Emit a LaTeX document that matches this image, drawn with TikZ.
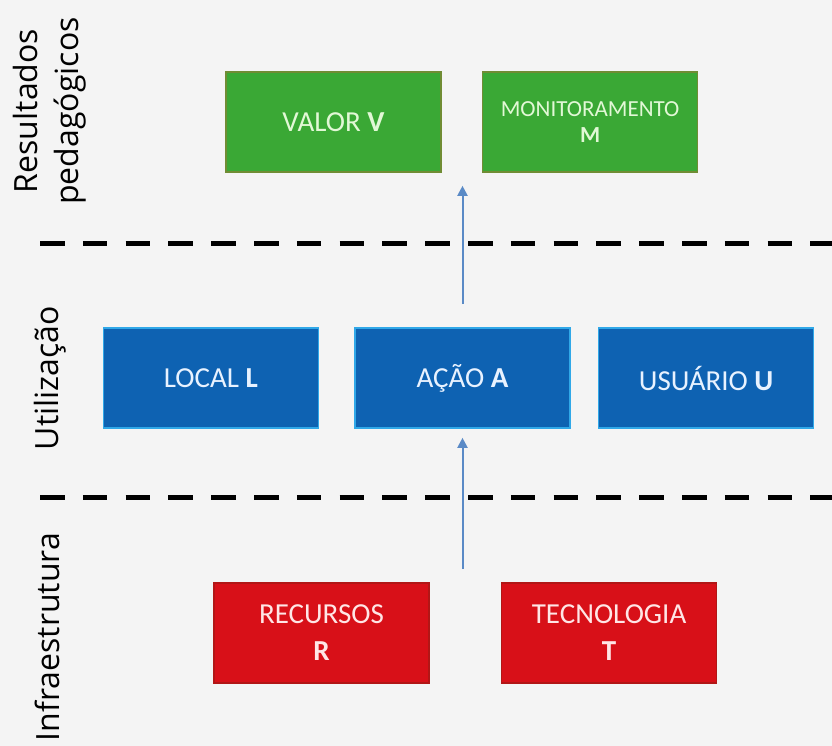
\documentclass[tikz,border=0pt]{standalone}
\usepackage{fontspec}
\setmainfont{Carlito}
\newfontfamily\sidefont{Open Sans}
\usepackage{tikz}
\usetikzlibrary{positioning, arrows.meta}
\usepackage{xcolor}

\definecolor{bgcol}{RGB}{244,244,244}
\definecolor{greenbox}{RGB}{58,168,53}
\definecolor{greenedge}{RGB}{112,140,52}
\definecolor{greentext}{RGB}{226,248,214}
\definecolor{bluebox}{RGB}{14,98,178}
\definecolor{blueedge}{RGB}{48,168,232}
\definecolor{bluetext}{RGB}{232,242,255}
\definecolor{redbox}{RGB}{216,16,24}
\definecolor{rededge}{RGB}{178,22,22}
\definecolor{redtext}{RGB}{255,230,230}
\definecolor{arrowcol}{RGB}{90,138,198}

\tikzset{
	block/.style={minimum width=107.5pt, minimum height=50pt, inner sep=2pt, align=center,
		font=\fontsize{14.5}{18.5}\selectfont, line width=0.8pt},
	resblock/.style={block, fill=greenbox, draw=greenedge, text=greentext},
	useblock/.style={block, fill=bluebox, draw=blueedge, text=bluetext},
	infblock/.style={block, fill=redbox, draw=rededge, text=redtext},
	layer/.style={draw=black, line width=2.5pt, dash pattern=on 12.25pt off 9.15pt},
	flow/.style={draw=arrowcol, line width=1pt, -{Triangle[length=5pt, width=5pt]}},
	sidelabel/.style={rotate=90, font=\sidefont\fontsize{16}{20.5}\selectfont, align=center, text=black}
}

\begin{document}
\begin{tikzpicture}[x=0.5pt, y=-0.5pt]
				\useasboundingbox (0,0) rectangle (832,746);
				\fill[bgcol] (0,0) rectangle (832,746);
				
				\draw[layer] (40,243) -- (832,243);
				\draw[layer] (40,497) -- (832,497);
				
				\node[sidelabel] (resultados) at (50,111) {Resultados\\pedagógicos};
				\node[sidelabel, anchor=base] (utilizacao) at (58,378) {Utilização};
				\node[sidelabel, anchor=base] (infra) at (60,637) {Infraestrutura};
				
				\node[resblock] (valor) at (333.5,122) {VALOR \textbf{V}};
				\node[resblock, right=20pt of valor, font=\fontsize{11.5}{13}\selectfont] (monit) {MONITORAMENTO\\\textbf{M}};
				
				\node[useblock] (acao) at (462.5,378) {AÇÃO \textbf{A}};
				\node[useblock, left=17.5pt of acao] (local) {LOCAL \textbf{L}};
				\node[useblock, right=13.5pt of acao] (usuario) {USUÁRIO \textbf{U}};
				
				\node[infblock] (recursos) at (321.5,633) {RECURSOS\\\textbf{R}};
				\node[infblock, right=35.5pt of recursos] (tecnologia) {TECNOLOGIA\\\textbf{T}};
				
				\draw[flow, shorten <=11.5pt, shorten >=6.5pt] (acao.north) -- (acao.north |- valor.south);
				\draw[flow, shorten <=6.5pt, shorten >=4.5pt] (acao.south |- recursos.north) -- (acao.south);
\end{tikzpicture}
\end{document}
